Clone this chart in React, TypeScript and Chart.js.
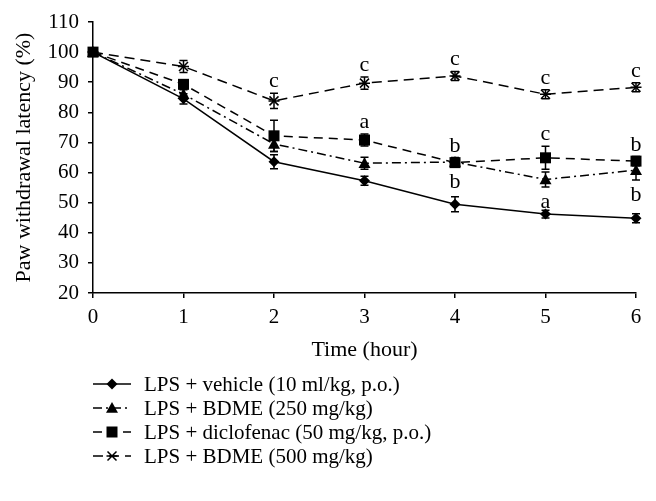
import React, { useEffect, useRef } from "react";
import { Chart, registerables } from "chart.js";

Chart.register(...registerables);

const hours = [0, 1, 2, 3, 4, 5, 6];
const yTicks = [20, 30, 40, 50, 60, 70, 80, 90, 100, 110];

const seriesLabels = [
  "LPS + vehicle (10 ml/kg, p.o.)",
  "LPS + BDME (250 mg/kg)",
  "LPS + diclofenac (50 mg/kg, p.o.)",
  "LPS + BDME (500 mg/kg)",
];

const vehicle = [100, 84.5, 63.6, 57.3, 49.5, 46.2, 44.8];
const vehicleErr = [0, 1.7, 2.3, 1.5, 2.5, 1.3, 1.5];
const bdme250 = [100, 86, 69.5, 63.1, 63.5, 57.7, 60.8];
const bdme250Err = [0, 1.5, 2.5, 2, 1.5, 2.5, 3.3];
const diclofenac = [100, 89.3, 72.2, 70.8, 63.3, 64.9, 63.8];
const diclofenacErr = [0, 1.5, 5.2, 2, 1.5, 3.8, 1.5];
const bdme500 = [100, 95.2, 83.8, 89.7, 92.1, 86, 88.3];
const bdme500Err = [0, 2, 2.5, 2, 1.5, 1.5, 1.5];

const vehicleLetters = ["", "", "", "", "", "", ""];
const bdme250Letters = ["", "", "", "", "b", "a", "b"];
const diclofenacLetters = ["", "", "", "a", "b", "c", "b"];
const bdme500Letters = ["", "", "c", "c", "c", "c", "c"];

const FONT = '"Liberation Serif", "DejaVu Serif", serif';

type Marker = "diamond" | "triangle" | "square" | "star";

function drawMarker(ctx: CanvasRenderingContext2D, kind: Marker, x: number, y: number) {
  ctx.save();
  ctx.fillStyle = "#000";
  ctx.strokeStyle = "#000";
  ctx.setLineDash([]);
  ctx.lineWidth = 1.5;
  ctx.beginPath();
  if (kind === "diamond") {
    const r = 5.5;
    ctx.moveTo(x, y - r);
    ctx.lineTo(x + r, y);
    ctx.lineTo(x, y + r);
    ctx.lineTo(x - r, y);
    ctx.closePath();
    ctx.fill();
  } else if (kind === "triangle") {
    const r = 6;
    ctx.moveTo(x, y - r);
    ctx.lineTo(x + r, y + r * 0.8);
    ctx.lineTo(x - r, y + r * 0.8);
    ctx.closePath();
    ctx.fill();
  } else if (kind === "square") {
    const r = 5.5;
    ctx.rect(x - r, y - r, 2 * r, 2 * r);
    ctx.fill();
  } else {
    const r = 4.5;
    ctx.moveTo(x - r, y - r);
    ctx.lineTo(x + r, y + r);
    ctx.moveTo(x + r, y - r);
    ctx.lineTo(x - r, y + r);
    ctx.moveTo(x - r - 1, y);
    ctx.lineTo(x + r + 1, y);
    ctx.stroke();
  }
  ctx.restore();
}

export default function App() {
  const ref = useRef<HTMLCanvasElement>(null);

  useEffect(() => {
    document.body.style.margin = "0";
    const canvas = ref.current;
    if (!canvas) return;

    const series = [
      { label: seriesLabels[0], values: vehicle, err: vehicleErr, letters: vehicleLetters, below: false, marker: "diamond" as Marker, dash: [] as number[] },
      { label: seriesLabels[1], values: bdme250, err: bdme250Err, letters: bdme250Letters, below: true, marker: "triangle" as Marker, dash: [9, 4, 2, 4] },
      { label: seriesLabels[2], values: diclofenac, err: diclofenacErr, letters: diclofenacLetters, below: false, marker: "square" as Marker, dash: [9, 6] },
      { label: seriesLabels[3], values: bdme500, err: bdme500Err, letters: bdme500Letters, below: false, marker: "star" as Marker, dash: [10, 6] },
    ];

    const overlay = {
      id: "overlay",
      afterDatasetsDraw(chart: any) {
        const ctx: CanvasRenderingContext2D = chart.ctx;
        const ys = chart.scales.y;
        series.forEach((s, i) => {
          const meta = chart.getDatasetMeta(i);
          s.values.forEach((v, j) => {
            const pt = meta.data[j];
            if (!pt) return;
            const x = pt.x;
            const e = s.err[j];
            const yTop = ys.getPixelForValue(v + e);
            const yBot = ys.getPixelForValue(v - e);
            drawMarker(ctx, s.marker, x, pt.y);
            if (e > 0) {
              ctx.save();
              ctx.strokeStyle = "#000";
              ctx.lineWidth = 1.5;
              ctx.setLineDash([]);
              ctx.beginPath();
              ctx.moveTo(x, yTop);
              ctx.lineTo(x, yBot);
              ctx.moveTo(x - 4, yTop);
              ctx.lineTo(x + 4, yTop);
              ctx.moveTo(x - 4, yBot);
              ctx.lineTo(x + 4, yBot);
              ctx.stroke();
              ctx.restore();
            }
            const letter = s.letters[j];
            if (letter) {
              ctx.save();
              ctx.fillStyle = "#000";
              ctx.font = `22px ${FONT}`;
              ctx.textAlign = "center";
              ctx.textBaseline = "alphabetic";
              if (s.below) {
                ctx.fillText(letter, x, yBot + 21);
              } else {
                ctx.fillText(letter, x, yTop - 6);
              }
              ctx.restore();
            }
          });
        });
      },
      afterDraw(chart: any) {
        const ctx: CanvasRenderingContext2D = chart.ctx;
        const left = chart.chartArea.left;
        const rowStart = chart.chartArea.bottom + 91;
        const rowGap = 24;
        series.forEach((s, i) => {
          const y = rowStart + i * rowGap;
          ctx.save();
          ctx.strokeStyle = "#000";
          ctx.lineWidth = 1.5;
          ctx.setLineDash(s.dash);
          ctx.beginPath();
          ctx.moveTo(left, y);
          ctx.lineTo(left + 38, y);
          ctx.stroke();
          ctx.restore();
          drawMarker(ctx, s.marker, left + 19, y);
          ctx.save();
          ctx.fillStyle = "#000";
          ctx.font = `21px ${FONT}`;
          ctx.textAlign = "left";
          ctx.textBaseline = "middle";
          ctx.fillText(s.label, left + 51, y + 1);
          ctx.restore();
        });
      },
    };

    const chart = new Chart(canvas, {
      type: "line",
      data: {
        datasets: series.map((s) => ({
          label: s.label,
          data: s.values.map((v, j) => ({ x: hours[j], y: v })),
          borderColor: "#000",
          backgroundColor: "#000",
          borderWidth: 1.5,
          borderDash: s.dash,
          pointRadius: 0,
          fill: false,
          tension: 0,
        })),
      },
      options: {
        responsive: false,
        animation: false,
        layout: { padding: { left: 0, right: 20, top: 22, bottom: 138 } },
        plugins: { legend: { display: false }, tooltip: { enabled: false } },
        scales: {
          x: {
            type: "linear",
            min: 0,
            max: 6,
            afterBuildTicks: (scale: any) => {
              scale.ticks = hours.map((h) => ({ value: h }));
            },
            afterFit: (scale: any) => {
              scale.height = 70;
            },
            ticks: { color: "#000", font: { family: FONT, size: 21 }, padding: 7, autoSkip: false, maxRotation: 0 },
            grid: { display: true, drawOnChartArea: false, drawTicks: true, tickLength: 5, color: "#000", lineWidth: 1.5 },
            border: { color: "#000", width: 1.5 },
            title: { display: true, text: "Time (hour)", color: "#000", font: { family: FONT, size: 22 }, padding: { top: 0, bottom: 0 } },
          },
          y: {
            min: 20,
            max: 110,
            afterBuildTicks: (scale: any) => {
              scale.ticks = yTicks.map((v) => ({ value: v }));
            },
            afterFit: (scale: any) => {
              scale.width = 93;
            },
            ticks: { color: "#000", font: { family: FONT, size: 21 }, padding: 9, autoSkip: false },
            grid: { display: true, drawOnChartArea: false, drawTicks: true, tickLength: 5, color: "#000", lineWidth: 1.5 },
            border: { color: "#000", width: 1.5 },
            title: { display: true, text: "Paw withdrawal latency (%)", color: "#000", font: { family: FONT, size: 22 }, padding: { top: 11, bottom: 4 } },
          },
        },
      },
      plugins: [overlay],
    } as any);

    return () => chart.destroy();
  }, []);

  return <canvas ref={ref} width={656} height={501} style={{ display: "block", width: 656, height: 501 }} />;
}
